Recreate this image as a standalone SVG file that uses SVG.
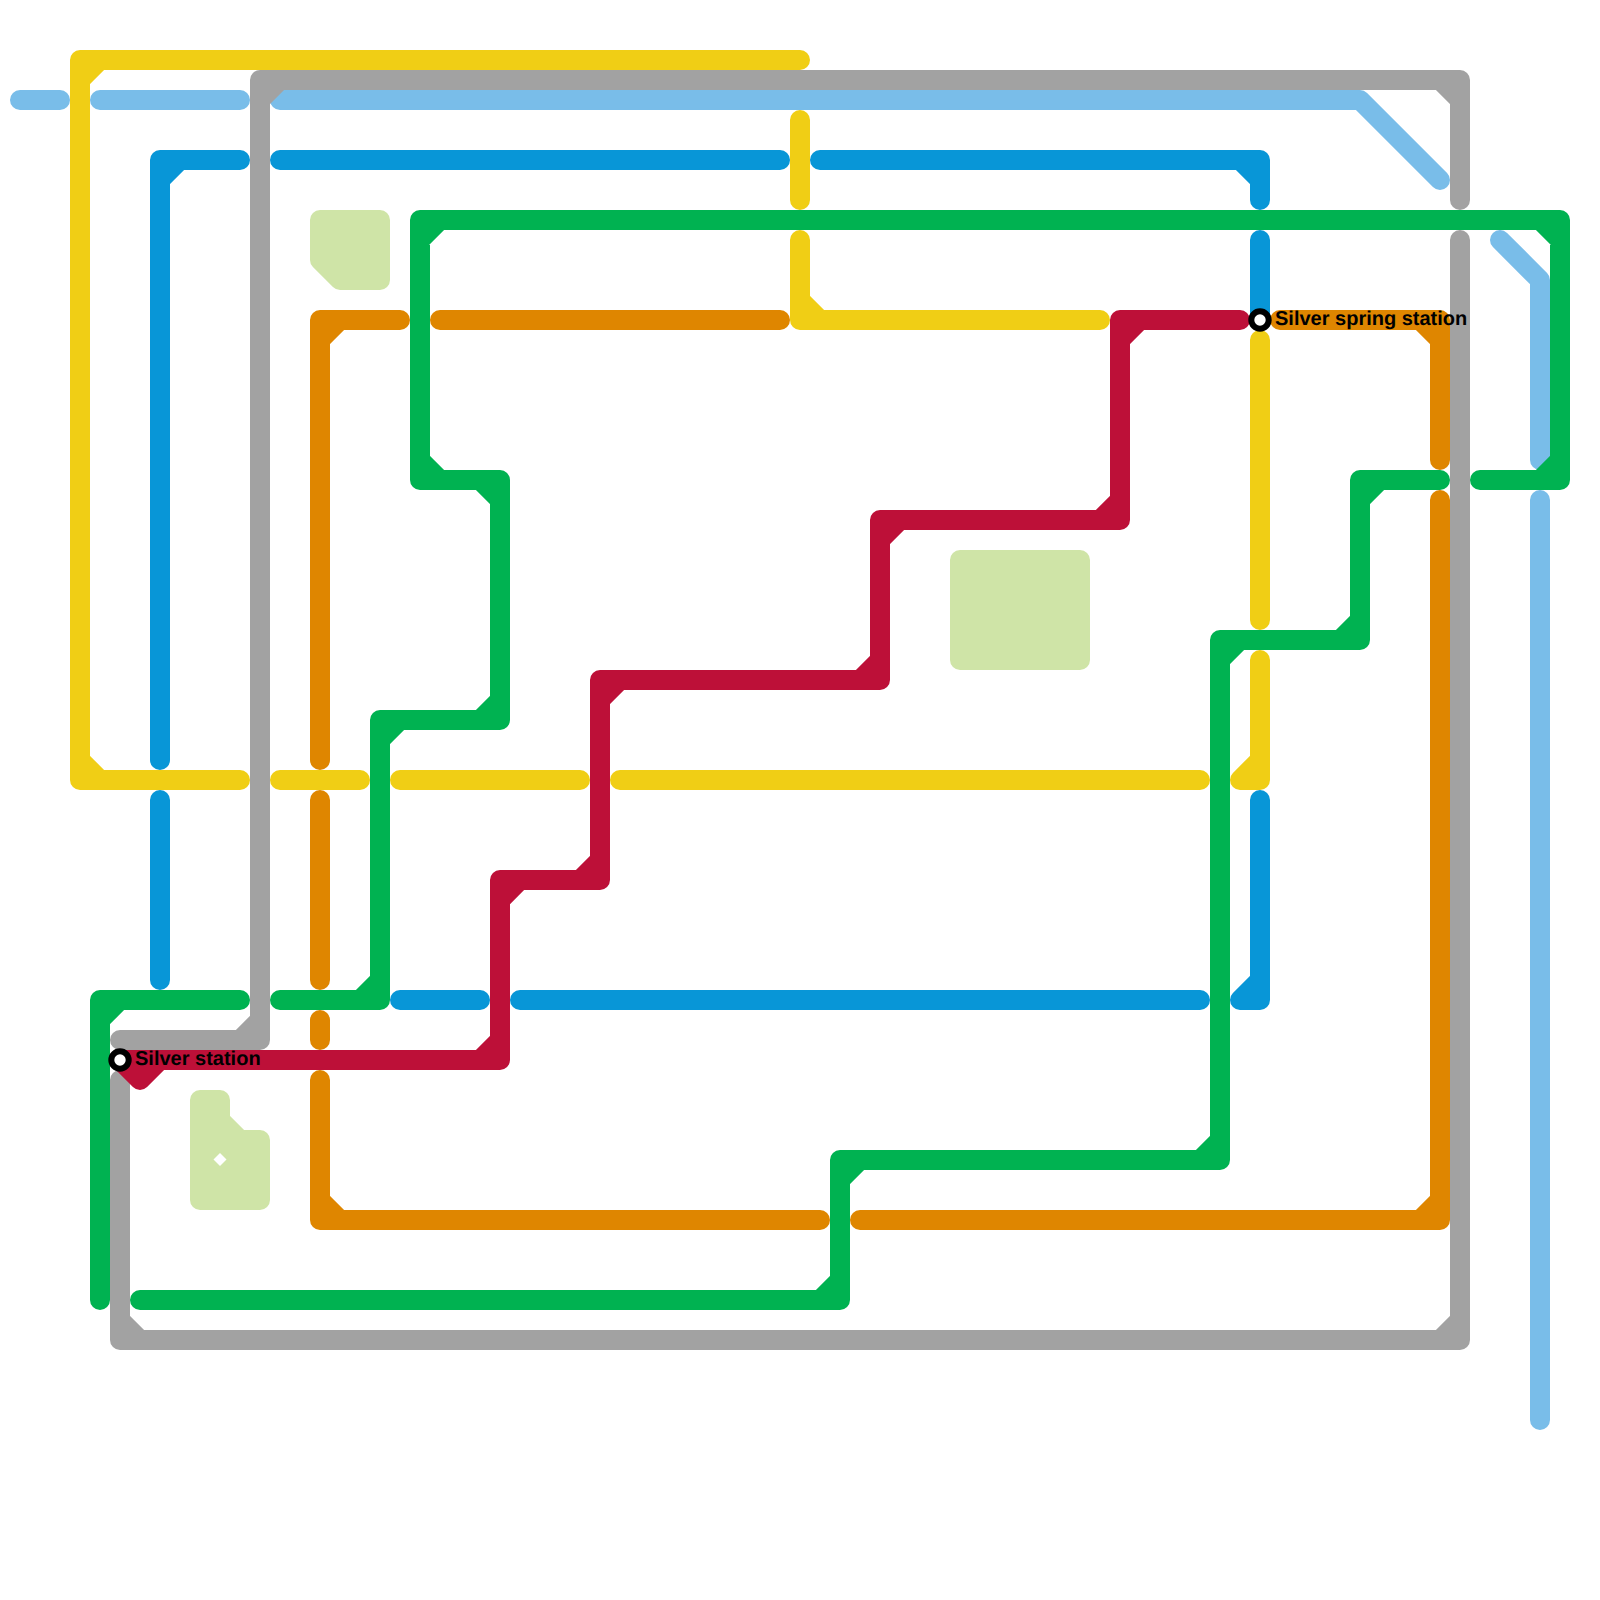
<svg xmlns="http://www.w3.org/2000/svg" width="1600" height="1600" viewBox="0 0 1600 1600">
<style>
.l{fill:none;stroke-width:20;stroke-linecap:round;stroke-linejoin:round}
.yellow{stroke:#f0ce15}.blue{stroke:#0896d7}.sky{stroke:#79bde9}.green{stroke:#00b251}.orange{stroke:#df8600}.red{stroke:#bd1038}.silver{stroke:#a2a2a2}
.park{fill:#cfe4a7;stroke:#cfe4a7;stroke-width:20;stroke-linejoin:round}
.st{fill:#fff;stroke:#000;stroke-width:6}
.lb{font-family:"Liberation Sans",Arial,sans-serif;font-weight:700;font-size:20px;fill:#000;text-rendering:geometricPrecision}
</style>
<rect width="1600" height="1600" fill="#fff"/>
<g id="parks">
<polygon class="park" points="320,220 380,220 380,280 340,280 320,260"/>
<polygon class="park" points="200,1100 220,1100 220,1120 240,1140 260,1140 260,1200 200,1200"/>
<polygon points="220,1153 226.500,1159.500 220,1166 213.500,1159.500" fill="#fff"/>
<polygon class="park" points="960,560 1080,560 1080,660 960,660"/>
</g>
<g id="connectors">
<g id="line-sky">
<path class="l sky" d="M20 100H60M100 100H240M280 100H1360L1440 180M1500 240L1540 280V460M1540 500V1420"/>
</g>
<g id="line-orange">
<path class="l orange" d="M400 320H320V760M320 340L340 320M440 320H780M320 800V980M320 1020V1040M320 1080V1220H820M320 1200L340 1220M860 1220H1440V500M1420 1220L1440 1200M1280 320H1440V460M1420 320L1440 340"/>
</g>
<g id="line-yellow">
<path class="l yellow" d="M800 60H80V780H240M80 80L100 60M80 760L100 780M280 780H360M400 780H580M620 780H1200M1240 780H1260V660M1240 780L1260 760M1260 340V620M800 120V200M800 240V320H1100M800 300L820 320"/>
</g>
<g id="line-blue">
<path class="l blue" d="M160 760V160H240M160 180L180 160M280 160H780M820 160H1260V200M1240 160L1260 180M1260 240V320M160 800V980M400 1000H480M520 1000H1200M1240 1000H1260V800M1240 1000L1260 980"/>
</g>
<g id="line-green">
<path class="l green" d="M100 1300V1000H240M100 1020L120 1000M280 1000H380V720H500V480H420V220H1560V480H1480M360 1000L380 980M380 740L400 720M480 720L500 700M480 480L500 500M420 460L440 480M420 240L440 220M1540 220L1560 240M1540 480L1560 460M1440 480H1360V640H1220V1160H840V1300H140M1360 500L1380 480M1340 640L1360 620M1220 660L1240 640M1200 1160L1220 1140M840 1180L860 1160M820 1300L840 1280"/>
</g>
<g id="line-silver">
<path class="l silver" d="M120 1040H260V80H1460V200M240 1040L260 1020M260 100L280 80M1440 80L1460 100M1460 240V1340H120V1080M1440 1340L1460 1320M120 1320L140 1340"/>
</g>
<g id="line-red">
<path class="l red" d="M120 1060H500V880H600V680H880V520H1120V320H1240M120 1060L140 1080L160 1060M480 1060L500 1040M500 900L520 880M580 880L600 860M600 700L620 680M860 680L880 660M880 540L900 520M1100 520L1120 500M1120 340L1140 320"/>
</g>
</g>
<g id="station-silver">
<circle class="st" cx="120" cy="1060" r="8.700"/>
<text class="lb" x="135" y="1065">Silver station</text>
</g>
<g id="station-silver-spring">
<circle class="st" cx="1260" cy="320" r="8.700"/>
<text class="lb" x="1275" y="325">Silver spring station</text>
</g>
</svg>
